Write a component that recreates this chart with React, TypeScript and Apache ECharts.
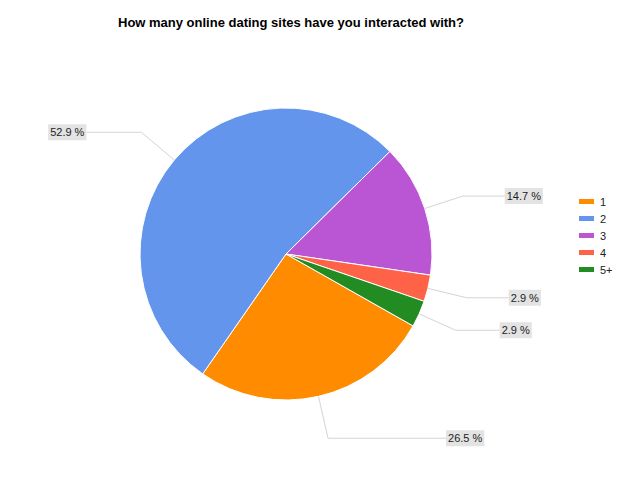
import React, { useEffect, useRef } from 'react'
import * as echarts from 'echarts'

const categories = ['1', '2', '3', '4', '5+']
const counts = [9, 18, 5, 1, 1]
const colors = ['#ff8c00', '#6495ed', '#ba55d3', '#ff6347', '#228b22']

// leader line lengths per slice [radial, horizontal]
const lineLengths = [
    [43, 118],
    [43, 55],
    [40, 42],
    [40, 42],
    [40, 44],
]

const FONT = '"Liberation Sans", Arial, sans-serif'

const App: React.FC = () => {
    const chartRef = useRef<HTMLDivElement>(null)

    useEffect(() => {
        const chart = echarts.init(chartRef.current, null, { renderer: 'svg' })
        const total = counts.reduce((a, b) => a + b, 0)

        const option = {
            animation: false,
            color: colors,
            title: {
                text: 'How many online dating sites have you interacted with?',
                left: 113,
                top: 11,
                textStyle: { fontSize: 13, fontWeight: 'bold', color: '#000', fontFamily: FONT },
            },
            legend: {
                orient: 'vertical',
                left: 577,
                top: 195,
                padding: 0,
                itemWidth: 17,
                itemHeight: 7,
                itemGap: 4,
                icon: 'rect',
                data: categories,
                textStyle: { fontSize: 11, color: '#222', fontFamily: FONT, lineHeight: 13 },
            },
            series: [
                {
                    type: 'pie',
                    center: [286, 254],
                    radius: 146,
                    startAngle: -29.5,
                    clockwise: true,
                    avoidLabelOverlap: false,
                    data: categories.map((name, i) => ({
                        name,
                        value: counts[i],
                        labelLine: { length: lineLengths[i][0], length2: lineLengths[i][1] },
                    })),
                    itemStyle: { borderColor: '#fff', borderWidth: 1 },
                    label: {
                        show: true,
                        position: 'outside',
                        formatter: (p: { value: number }) => ((p.value / total) * 100).toFixed(1) + ' %',
                        fontSize: 11,
                        color: '#222',
                        fontFamily: FONT,
                        backgroundColor: '#e3e3e3',
                        padding: [2, 2],
                        lineHeight: 12,
                        distanceToLabelLine: 0,
                    },
                    labelLine: {
                        show: true,
                        smooth: false,
                        lineStyle: { color: '#d4d4d4', width: 1 },
                    },
                    emphasis: { disabled: true },
                },
            ],
        }

        chart.setOption(option)

        return () => {
            chart.dispose()
        }
    }, [])

    return <div ref={chartRef} style={{ position: 'absolute', left: 0, top: 0, width: '640px', height: '480px' }} />
}

export default App
